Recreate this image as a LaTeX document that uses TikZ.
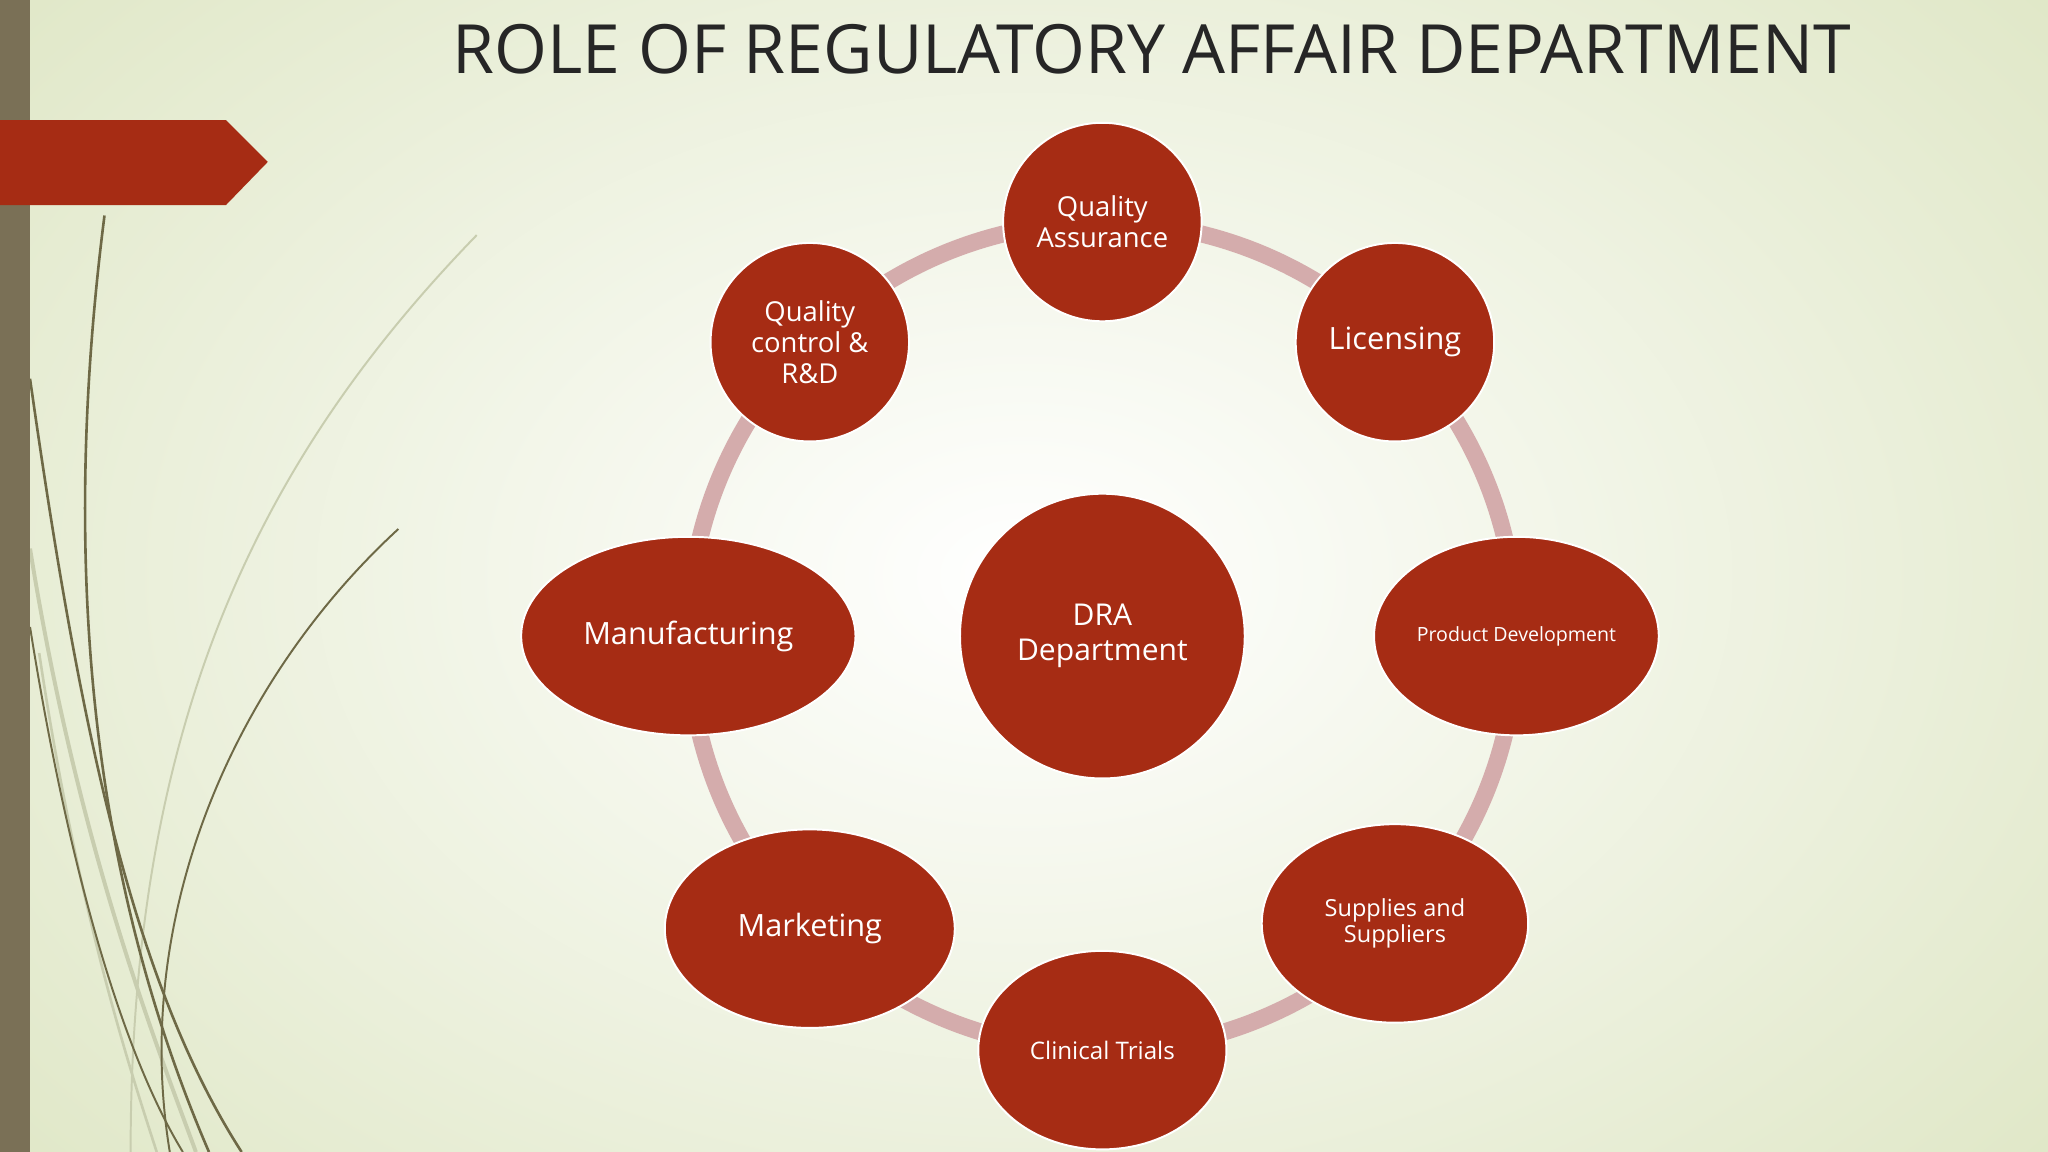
\documentclass[tikz,border=0pt]{standalone}
\usepackage{fontspec}
\setmainfont{Open Sans}
\usetikzlibrary{shapes.geometric}
\definecolor{bgout}{RGB}{222,230,196}
\definecolor{bar}{RGB}{122,112,86}
\definecolor{rust}{RGB}{166,44,20}
\definecolor{ring}{RGB}{212,172,172}
\definecolor{stem}{RGB}{110,105,70}
\definecolor{stemlt}{RGB}{200,205,175}
\begin{document}
\begin{tikzpicture}[x=1pt,y=-1pt,
  bub/.style={fill=rust,draw=white,line width=1.5pt,ellipse,text=white,align=center,inner sep=0pt,font=\fontsize{21}{24}\selectfont}]
\useasboundingbox (0,0) rectangle (1568,882);
\shade[inner color=white,outer color=bgout] (-300,-300) rectangle (1868,1182);
\begin{scope}
\clip (0,0) rectangle (1568,882);
\draw[stemlt,line width=3pt] (23,420) .. controls (60,650) and (120,800) .. (150,882);
\draw[stemlt,line width=2pt] (30,500) .. controls (60,700) and (100,820) .. (120,882);
\draw[stemlt,line width=1.5pt] (365,180) .. controls (200,350) and (100,550) .. (100,882);
\draw[stem,line width=2pt] (80,165) .. controls (50,400) and (60,650) .. (160,882);
\draw[stem,line width=2pt] (23,290) .. controls (60,550) and (100,750) .. (185,882);
\draw[stem,line width=1.5pt] (305,405) .. controls (180,520) and (100,700) .. (130,882);
\draw[stem,line width=1.5pt] (23,480) .. controls (50,650) and (90,800) .. (140,882);
\end{scope}
\fill[bar] (0,0) rectangle (23,882);
\fill[rust] (0,92) -- (173,92) -- (205,124) -- (173,157) -- (0,157) -- cycle;
\node[anchor=center,font=\fontsize{52}{60}\selectfont,text=black!85] (title) at (882,38) {ROLE OF REGULATORY AFFAIR DEPARTMENT};
\draw[ring,line width=13pt] (844,487) circle (317);
\node[bub,minimum width=152,minimum height=152] (qa) at (844,170) {Quality\\Assurance};
\node[bub,minimum width=152,minimum height=152,font=\fontsize{23.5}{27}\selectfont] (lic) at (1068,262) {Licensing};
\node[bub,minimum width=218,minimum height=152,font=\fontsize{15}{18}\selectfont] (pd) at (1161,487) {Product Development};
\node[bub,minimum width=204,minimum height=152,font=\fontsize{18}{20}\selectfont] (sup) at (1068,707) {Supplies and\\Suppliers};
\node[bub,minimum width=190,minimum height=152,font=\fontsize{18.5}{22}\selectfont] (ct) at (844,804) {Clinical Trials};
\node[bub,minimum width=222,minimum height=152,font=\fontsize{23.5}{27}\selectfont] (mkt) at (620,711) {Marketing};
\node[bub,minimum width=256,minimum height=152,font=\fontsize{23.5}{27}\selectfont] (man) at (527,487) {Manufacturing};
\node[bub,minimum width=152,minimum height=152] (qc) at (620,262) {Quality\\control \&\\R\&D};
\node[bub,minimum width=218,minimum height=218,font=\fontsize{23}{27}\selectfont] (dra) at (844,487) {DRA\\Department};
\end{tikzpicture}
\end{document}
